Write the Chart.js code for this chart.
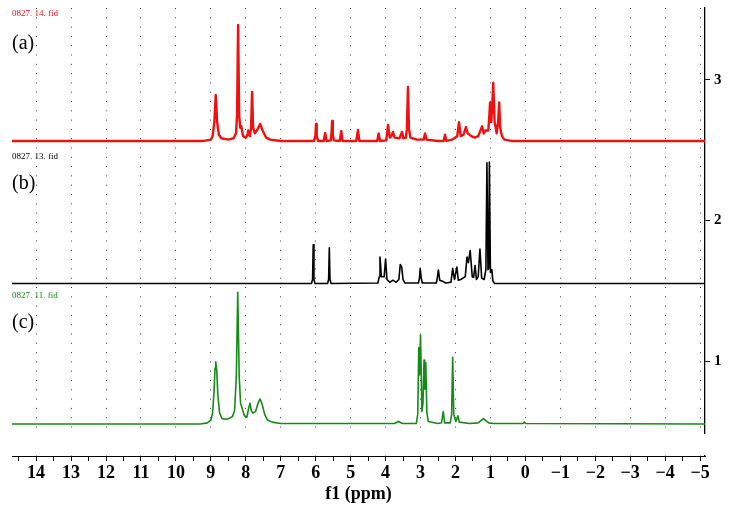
<!DOCTYPE html>
<html>
<head>
<meta charset="utf-8">
<script src="https://cdn.jsdelivr.net/npm/chart.js@4/dist/chart.umd.min.js"></script>
<style>
  html, body { margin: 0; padding: 0; background: #ffffff; }
  #c { display: block; }
</style>
</head>
<body>
<canvas id="c" width="731" height="512"></canvas>
<script>
// ---------- DATA (ppm and stacked intensity) ----------
const xTickLabels = [14, 13, 12, 11, 10, 9, 8, 7, 6, 5, 4, 3, 2, 1, 0, -1, -2, -3, -4, -5];
const yTickLabels = [1, 2, 3];
const fileNames = ['0827. 14. fid', '0827. 13. fid', '0827. 11. fid'];
const panelNames = ['(a)', '(b)', '(c)'];

const redPpm = [14.69, 9.2, 9.0, 8.95, 8.9, 8.86, 8.82, 8.77, 8.7, 8.5, 8.35, 8.28, 8.25, 8.22, 8.19, 8.16, 8.13, 8.08, 8.0, 7.95, 7.93, 7.88, 7.85, 7.82, 7.79, 7.74, 7.66, 7.59, 7.52, 7.42, 7.3, 7.0,
  6.05, 6.01, 5.99, 5.97, 5.93, 5.77, 5.73, 5.69, 5.57, 5.55, 5.53, 5.51, 5.48, 5.31, 5.27, 5.23, 4.84, 4.79, 4.75, 4.24, 4.2, 4.16,
  3.98, 3.93, 3.88, 3.83, 3.79, 3.74, 3.6, 3.53, 3.49, 3.42, 3.39, 3.36, 3.33, 3.29, 3.1, 2.91, 2.87, 2.83, 2.5, 2.34, 2.3, 2.26,
  2.1, 1.95, 1.9, 1.85, 1.77, 1.7, 1.65, 1.55, 1.45, 1.35, 1.24, 1.19, 1.15, 1.06, 1.03, 1.01, 0.98, 0.95, 0.92, 0.88, 0.82, 0.78, 0.75, 0.72, 0.67, 0.6, 0.4, -5.14];
const redInt = [2.566, 2.566, 2.575, 2.6, 2.7, 2.893, 2.7, 2.61, 2.585, 2.575, 2.585, 2.62, 2.75, 3.391, 2.75, 2.66, 2.67, 2.6, 2.59, 2.61, 2.64, 2.6, 2.66, 2.915, 2.66, 2.62, 2.65, 2.687, 2.64, 2.59, 2.575, 2.566,
  2.566, 2.6, 2.687, 2.6, 2.566, 2.566, 2.623, 2.566, 2.57, 2.61, 2.708, 2.61, 2.57, 2.566, 2.637, 2.566, 2.566, 2.644, 2.566, 2.566, 2.62, 2.566,
  2.57, 2.68, 2.59, 2.6, 2.63, 2.59, 2.585, 2.63, 2.585, 2.59, 2.65, 2.95, 2.65, 2.59, 2.575, 2.575, 2.62, 2.575, 2.566, 2.566, 2.61, 2.566,
  2.575, 2.6, 2.7, 2.6, 2.61, 2.665, 2.62, 2.6, 2.59, 2.6, 2.67, 2.62, 2.64, 2.64, 2.75, 2.84, 2.7, 2.8, 2.98, 2.7, 2.62, 2.7, 2.84, 2.66, 2.6, 2.575, 2.566, 2.566];

const blackPpm = [14.69, 6.12, 6.09, 6.07, 6.05, 6.02, 5.66, 5.63, 5.61, 5.59, 5.56,
  4.22, 4.18, 4.16, 4.12, 4.04, 4.0, 3.96, 3.88, 3.79, 3.7, 3.62, 3.58, 3.54, 3.5, 3.45, 3.06, 3.03, 3.01, 2.98, 2.95,
  2.55, 2.52, 2.49, 2.45, 2.35, 2.28, 2.13, 2.08, 2.03, 1.96, 1.92, 1.85, 1.72, 1.67, 1.63, 1.58, 1.52, 1.48, 1.44, 1.4, 1.35, 1.3, 1.25,
  1.18, 1.13, 1.1, 1.07, 1.05, 1.03, 1.0, 0.96, 0.93, 0.88, -5.14];
const blackInt = [1.552, 1.552, 1.58, 1.827, 1.58, 1.552, 1.552, 1.58, 1.806, 1.58, 1.552,
  1.555, 1.6, 1.74, 1.6, 1.6, 1.725, 1.58, 1.56, 1.575, 1.56, 1.58, 1.687, 1.67, 1.58, 1.556, 1.555, 1.59, 1.66, 1.59, 1.555,
  1.555, 1.59, 1.648, 1.575, 1.565, 1.555, 1.56, 1.66, 1.58, 1.668, 1.575, 1.58, 1.6, 1.74, 1.7, 1.786, 1.6, 1.595, 1.68, 1.58, 1.6, 1.797, 1.59,
  1.58, 1.65, 2.41, 1.65, 1.66, 2.415, 1.63, 1.65, 1.57, 1.552, 1.552];

const greenPpm = [14.69, 9.3, 9.1, 9.0, 8.95, 8.91, 8.88, 8.86, 8.83, 8.8, 8.75, 8.68, 8.55, 8.45, 8.38, 8.32, 8.27, 8.23, 8.19, 8.15, 8.1, 8.04, 7.97, 7.92, 7.88, 7.84, 7.8, 7.72, 7.65, 7.59, 7.53, 7.46, 7.38, 7.25, 7.0,
  3.75, 3.63, 3.52, 3.12, 3.08, 3.05, 3.03, 3.0, 2.96, 2.93, 2.9, 2.88, 2.85, 2.82, 2.78, 2.5, 2.4, 2.35, 2.31, 2.15, 2.11, 2.08, 2.05, 1.99, 1.93, 1.89,
  1.6, 1.35, 1.2, 1.05, 0.9, 0.07, 0.03, -0.01, -5.14];
const greenInt = [0.552, 0.552, 0.56, 0.58, 0.63, 0.78, 0.95, 0.995, 0.93, 0.76, 0.63, 0.59, 0.585, 0.595, 0.605, 0.65, 0.9, 1.489, 0.9, 0.7, 0.66, 0.61, 0.6, 0.66, 0.7, 0.645, 0.63, 0.64, 0.7, 0.73, 0.69, 0.62, 0.58, 0.565, 0.555,
  0.555, 0.57, 0.555, 0.556, 0.62, 1.095, 0.9, 1.185, 0.64, 0.7, 1.007, 0.8, 0.988, 0.64, 0.57, 0.555, 0.56, 0.64, 0.56, 0.56, 0.62, 1.026, 0.62, 0.57, 0.61, 0.565,
  0.555, 0.56, 0.59, 0.56, 0.555, 0.555, 0.565, 0.555, 0.552];

// ---------- STYLE ----------
const RED = '#f01010';
const BLACK = '#000000';
const GREEN = '#168a16';
const seriesColors = [RED, BLACK, GREEN];
const SERIF = '"Liberation Serif", "DejaVu Serif", serif';

function toPoints(xs, ys) { return xs.map((x, i) => ({ x: x, y: ys[i] })); }

// stacked-label anchors (y in right-axis units), drawn at chart left edge
const fileLabelY = [3.475, 2.456, 1.463];
const panelLabelY = [3.26, 2.263, 1.27];

const labelPlugin = {
  id: 'labels',
  beforeDatasetsDraw(chart) {
    // hide the gap between the stacked plot region and the ppm axis
    const { ctx, chartArea } = chart;
    const ys = chart.scales.y;
    const top = Math.round(ys.getPixelForValue(0.48));
    ctx.save();
    ctx.fillStyle = '#ffffff';
    ctx.fillRect(chartArea.left - 1, top, chartArea.right - chartArea.left + 3, chartArea.bottom - 1 - top);
    ctx.restore();
  },
  afterDraw(chart) {
    const { ctx, chartArea } = chart;
    const ys = chart.scales.y;
    ctx.save();
    ctx.textAlign = 'left';
    ctx.textBaseline = 'middle';
    for (let i = 0; i < 3; i++) {
      ctx.fillStyle = seriesColors[i];
      ctx.font = '9px ' + SERIF;
      ctx.fillText(fileNames[i], chartArea.left, ys.getPixelForValue(fileLabelY[i]));
      ctx.fillStyle = '#000000';
      ctx.font = '20px ' + SERIF;
      ctx.fillText(panelNames[i], chartArea.left, ys.getPixelForValue(panelLabelY[i]));
    }
    ctx.restore();
  }
};

const datasets = [
  { data: toPoints(redPpm, redInt), borderColor: RED, borderWidth: 2.4 },
  { data: toPoints(blackPpm, blackInt), borderColor: BLACK, borderWidth: 1.6 },
  { data: toPoints(greenPpm, greenInt), borderColor: GREEN, borderWidth: 1.6 }
].map(d => Object.assign(d, { pointRadius: 0, tension: 0, fill: false, borderJoinStyle: 'round' }));

new Chart(document.getElementById('c'), {
  type: 'line',
  data: { datasets: datasets },
  plugins: [labelPlugin],
  options: {
    responsive: false,
    animation: false,
    devicePixelRatio: 1,
    layout: { padding: { left: 12, top: 8, right: 0, bottom: 0 } },
    plugins: { legend: { display: false }, tooltip: { enabled: false } },
    scales: {
      x: {
        type: 'linear',
        reverse: true,
        min: -5.14,
        max: 14.69,
        position: 'bottom',
        afterFit(scale) { scale.height = 56; scale.paddingLeft = 0; scale.paddingRight = 0; },
        afterBuildTicks(scale) {
          const t = [];
          xTickLabels.forEach(v => { t.push({ value: v }); if (v < 14.5) t.push({ value: v + 0.5 }); });
          t.push({ value: 14.5 });
          scale.ticks = t.sort((a, b) => a.value - b.value);
        },
        border: { display: true, color: '#000000', width: 1, dash: [1, 8.3], dashOffset: 0 },
        grid: {
          drawOnChartArea: true,
          color: ctx => (ctx.tick && Number.isInteger(ctx.tick.value)) ? '#3a3a3a' : 'rgba(0,0,0,0)',
          lineWidth: 1,
          drawTicks: true,
          tickLength: 5,
          tickColor: '#000000',
          tickBorderDash: [],
          tickWidth: 1
        },
        ticks: {
          autoSkip: false,
          maxRotation: 0,
          padding: 2,
          color: '#000000',
          font: { family: SERIF, size: 18, weight: 'bold' },
          callback: v => Number.isInteger(v) ? (v < 0 ? '\u2212' + Math.abs(v) : String(v)) : ''
        },
        title: {
          display: true,
          text: 'f1 (ppm)',
          color: '#000000',
          font: { family: SERIF, size: 18, weight: 'bold' },
          padding: { top: 0, bottom: 7 }
        }
      },
      y: {
        type: 'linear',
        position: 'right',
        min: 0.324,
        max: 3.512,
        afterFit(scale) { scale.width = 26; scale.paddingTop = 0; scale.paddingBottom = 0; },
        afterBuildTicks(scale) { scale.ticks = yTickLabels.map(v => ({ value: v })); },
        border: { display: true, color: '#000000', width: 1.3 },
        grid: { drawOnChartArea: false, drawTicks: true, tickLength: 5, tickColor: '#000000' },
        ticks: {
          padding: 4,
          color: '#000000',
          font: { family: SERIF, size: 15, weight: 'bold' },
          callback: v => String(v)
        }
      }
    }
  }
});
</script>
</body>
</html>
